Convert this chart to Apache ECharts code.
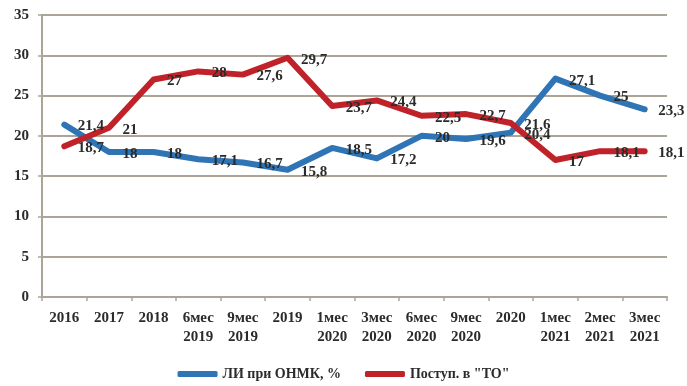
<!DOCTYPE html>
<html>
<head>
<meta charset="utf-8">
<script src="https://cdn.jsdelivr.net/npm/echarts@6/dist/echarts.min.js"></script>
<style>
  html, body { margin: 0; padding: 0; background: #fff; }
  #chart { width: 687px; height: 386px; }
</style>
</head>
<body>
<div id="chart"></div>
<script>
// Reporting periods (two-line labels)
const categories = [
  '2016', '2017', '2018', '6мес\n2019', '9мес\n2019', '2019',
  '1мес\n2020', '3мес\n2020', '6мес\n2020', '9мес\n2020', '2020',
  '1мес\n2021', '2мес\n2021', '3мес\n2021'
];

// ЛИ при ОНМК, %
const liOnmk = [21.4, 18, 18, 17.1, 16.7, 15.8, 18.5, 17.2, 20, 19.6, 20.4, 27.1, 25, 23.3];

// Поступ. в "ТО"
const postupTo = [18.7, 21, 27, 28, 27.6, 29.7, 23.7, 24.4, 22.5, 22.7, 21.6, 17, 18.1, 18.1];

const yTicks = { min: 0, max: 35, interval: 5 };

const FONT = '"Liberation Serif", "DejaVu Serif", serif';
const TEXT_COLOR = '#2b2b2b';
const GRID_COLOR = '#aaa597';
const BLUE = '#2f74b5';
const RED = '#bf2229';

function makeSeries(name, data, color) {
  return {
    name: name,
    type: 'line',
    data: data,
    symbol: 'circle',
    symbolSize: 1,
    showSymbol: true,
    itemStyle: { color: color },
    lineStyle: { color: color, width: 6, cap: 'round', join: 'round' },
    label: {
      show: true,
      position: 'right',
      distance: 13,
      offset: [0, 2],
      fontFamily: FONT,
      fontWeight: 'bold',
      fontSize: 15,
      color: TEXT_COLOR,
      formatter: p => String(p.value).replace('.', ',')
    },
    emphasis: { disabled: true },
    z: 3
  };
}

const chart = echarts.init(document.getElementById('chart'), null, { renderer: 'canvas' });
chart.setOption({
  animation: false,
  backgroundColor: '#ffffff',
  grid: { left: 42, right: 20, top: 15, bottom: 89, containLabel: false },
  xAxis: {
    type: 'category',
    data: categories,
    boundaryGap: true,
    axisLine: { show: true, lineStyle: { color: GRID_COLOR, width: 2 } },
    axisTick: { show: true, length: 4, lineStyle: { color: GRID_COLOR, width: 1.5 } },
    axisLabel: {
      interval: 0,
      margin: 12,
      fontFamily: FONT,
      fontWeight: 'bold',
      fontSize: 15,
      lineHeight: 19,
      color: TEXT_COLOR
    },
    splitLine: { show: false }
  },
  yAxis: {
    type: 'value',
    min: yTicks.min,
    max: yTicks.max,
    interval: yTicks.interval,
    axisLine: { show: true, lineStyle: { color: GRID_COLOR, width: 2 } },
    axisTick: { show: true, length: 4, lineStyle: { color: GRID_COLOR, width: 1.5 } },
    axisLabel: {
      margin: 13,
      fontFamily: FONT,
      fontWeight: 'bold',
      fontSize: 15,
      color: TEXT_COLOR
    },
    splitLine: { show: true, lineStyle: { color: GRID_COLOR, width: 2 } }
  },
  legend: {
    bottom: 0,
    left: 'center',
    itemGap: 24,
    itemWidth: 40,
    itemHeight: 6,
    icon: 'roundRect',
    textStyle: { fontFamily: FONT, fontWeight: 'bold', fontSize: 14, color: TEXT_COLOR },
    data: ['ЛИ при ОНМК, %', 'Поступ. в "ТО"']
  },
  series: [
    makeSeries('ЛИ при ОНМК, %', liOnmk, BLUE),
    makeSeries('Поступ. в "ТО"', postupTo, RED)
  ]
});
</script>
</body>
</html>
